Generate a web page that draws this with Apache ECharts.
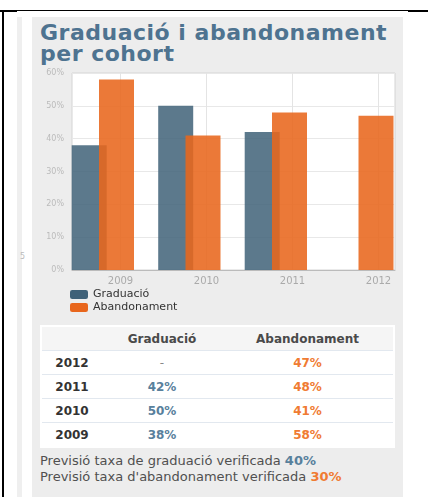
<!DOCTYPE html>
<html>
<head>
<meta charset="utf-8">
<script src="https://cdn.jsdelivr.net/npm/echarts@6/dist/echarts.min.js"></script>
<style>
    body { margin: 0; background: #fff; font-family: "DejaVu Sans", sans-serif; }
    .frame-top { position: absolute; left: 0; top: 10px; width: 428px; height: 1px; background: #000; }
    .frame-top-l { position: absolute; left: 0; top: 10px; width: 17px; height: 2px; background: #000; }
    .frame-top-r { position: absolute; left: 408px; top: 10px; width: 20px; height: 2px; background: #000; }
    .frame-left { position: absolute; left: 2px; top: 10px; width: 2px; height: 487px; background: #000; }
    .stripe { position: absolute; left: 17px; top: 17px; width: 5px; height: 480px; background: #efefef; }
    .stray { position: absolute; left: 20px; top: 252px; font-size: 8px; color: #bbb; }
    .panel { position: absolute; left: 32px; top: 17px; width: 371px; height: 480px; background: #ededed; }
    .title { position: absolute; left: 40px; top: 22px; font-size: 22px; line-height: 21px; font-weight: bold;
        letter-spacing: 0.5px; color: #4e7390; }
    #chart { position: absolute; left: 32px; top: 66px; width: 378px; height: 258px; }
    .taula { position: absolute; left: 40px; top: 325px; width: 355px; background: #fff; padding: 2px;
        box-sizing: border-box; }
    .taula table { width: 100%; border-collapse: collapse; font-size: 12px; font-weight: bold; }
    .taula th { background: #f5f5f5; color: #4a4a4a; height: 23px; padding: 0; text-align: center; }
    .taula td { height: 23px; padding: 0; border-top: 1px solid #e2e8ef; text-align: center; }
    .taula td.any { color: #333; }
    .taula td.grad { color: #58809c; }
    .taula td.aband { color: #f07b32; }
    .taula td.buit { color: #888; font-weight: normal; }
    .notes { position: absolute; left: 40px; top: 453px; font-size: 13px; line-height: 16px; color: #505050; }
    .notes b.grad { color: #58809c; }
    .notes b.aband { color: #f07b32; }
</style>
</head>
<body>
<div class="frame-top"></div>
<div class="frame-top-l"></div>
<div class="frame-top-r"></div>
<div class="frame-left"></div>
<div class="stripe"></div>
<div class="stray">5</div>
<div class="panel"></div>
<div class="title">Graduació i abandonament<br>per cohort</div>
<div id="chart"></div>
<div class="taula"><table id="taula"></table></div>
<div class="notes" id="notes"></div>
<script>
    // dades
    const cohorts = ['2009', '2010', '2011', '2012'];
    const graduacio = [38, 50, 42, null];
    const abandonament = [58, 41, 48, 47];
    const previsioGraduacio = 40;
    const previsioAbandonament = 30;

    const colorGrad = '#3f6178';
    const colorAband = '#e8661c';

    //taula de valors, de la cohort més recent a la més antiga
    function buildTable() {
        let html = '<tr><th style="width:60px"></th><th style="width:120px">Graduació</th><th>Abandonament</th></tr>';
        for (let i = cohorts.length - 1; i >= 0; i--) {
            let g = graduacio[i] == null ? '<td class="buit">-</td>' : '<td class="grad">' + graduacio[i] + '%</td>';
            let a = abandonament[i] == null ? '<td class="buit">-</td>' : '<td class="aband">' + abandonament[i] + '%</td>';
            html += '<tr><td class="any">' + cohorts[i] + '</td>' + g + a + '</tr>';
        }
        document.getElementById('taula').innerHTML = html;
        document.getElementById('notes').innerHTML =
            'Previsió taxa de graduació verificada <b class="grad">' + previsioGraduacio + '%</b><br>' +
            'Previsió taxa d\'abandonament verificada <b class="aband">' + previsioAbandonament + '%</b>';
    }

    function drawChart() {
        const chart = echarts.init(document.getElementById('chart'));
        const font = 'DejaVu Sans';
        const option = {
            animation: false,
            textStyle: { fontFamily: font },
            legend: {
                orient: 'vertical',
                left: 33,
                top: 218,
                itemWidth: 18,
                itemHeight: 9,
                itemGap: 2,
                icon: 'roundRect',
                textStyle: { fontSize: 11, color: '#333', fontFamily: font },
                data: [
                    { name: 'Graduació', itemStyle: { color: colorGrad, opacity: 1 } },
                    { name: 'Abandonament', itemStyle: { color: colorAband, opacity: 1 } }
                ]
            },
            grid: [
                // marc + eix y
                { left: 40, top: 7, width: 323, height: 197, show: true, backgroundColor: '#fff', borderColor: '#d4d4d4', borderWidth: 1 },
                // etiquetes dels anys
                { left: 88.5, top: 7, width: 258, height: 197 },
                // barres
                { left: 27.6, top: 7, width: 346, height: 197 }
            ],
            xAxis: [
                {
                    gridIndex: 0, type: 'value', min: 0, max: 1,
                    axisLine: { show: true, onZero: false, lineStyle: { color: '#bbb' } },
                    axisTick: { show: false }, axisLabel: { show: false }, splitLine: { show: false }
                },
                {
                    gridIndex: 1, type: 'category', data: cohorts, boundaryGap: false,
                    axisLine: { show: false }, axisTick: { show: false },
                    axisLabel: { interval: 0, margin: 6, fontSize: 10, color: '#aaa', fontFamily: font },
                    splitLine: { show: true, interval: 0, lineStyle: { color: '#e4e4e4' } }
                },
                {
                    gridIndex: 2, type: 'category', data: cohorts, show: false
                }
            ],
            yAxis: [
                {
                    gridIndex: 0, type: 'value', min: 0, max: 60, interval: 10,
                    axisLine: { show: false }, axisTick: { show: false },
                    axisLabel: { formatter: '{value}%', margin: 8, fontSize: 8, color: '#bbb', fontFamily: font },
                    splitLine: { lineStyle: { color: '#e8e8e8' } }
                },
                { gridIndex: 1, type: 'value', min: 0, max: 60, show: false },
                { gridIndex: 2, type: 'value', min: 0, max: 60, show: false }
            ],
            series: [
                {
                    name: 'Graduació', type: 'bar', xAxisIndex: 2, yAxisIndex: 2,
                    data: graduacio, barWidth: 35, barGap: '-22%',
                    itemStyle: { color: colorGrad, opacity: 0.85 }
                },
                {
                    name: 'Abandonament', type: 'bar', xAxisIndex: 2, yAxisIndex: 2,
                    data: abandonament, barWidth: 35, barGap: '-22%',
                    itemStyle: { color: colorAband, opacity: 0.88 }
                }
            ]
        };
        chart.setOption(option);
    }

    buildTable();
    drawChart();
</script>
</body>
</html>
